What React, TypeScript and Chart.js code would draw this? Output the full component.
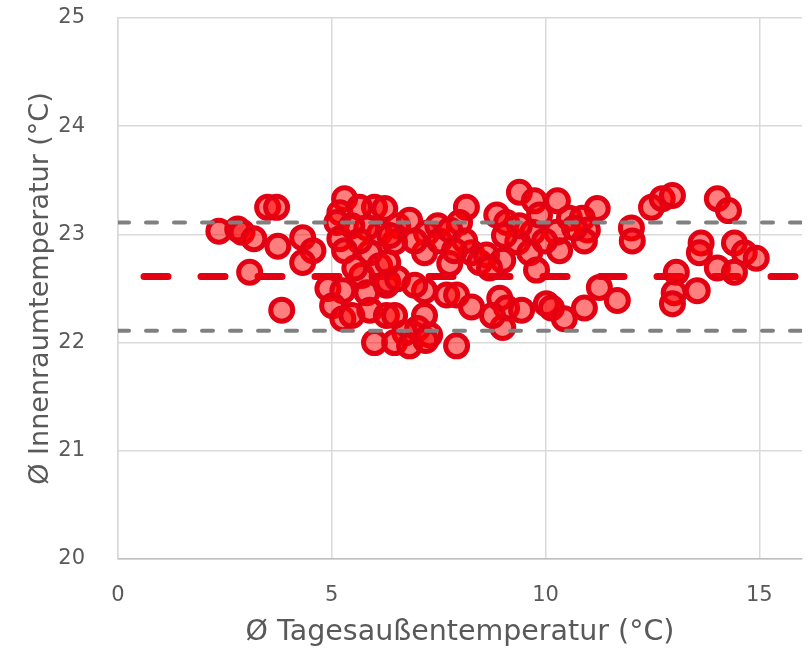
import React, { useEffect, useRef } from "react";
import { Chart, registerables } from "chart.js";

Chart.register(...registerables);

// Ø Tagesaußentemperatur (°C)
const outdoorTemps: number[] = [
  2.36, 2.80, 2.90, 3.18, 3.08, 3.50, 3.71, 3.74, 3.83,
  4.32, 4.56, 4.32,
  5.30, 5.19, 5.12, 6.00, 5.65, 5.19, 5.89, 6.12, 5.70, 5.54, 4.91, 5.26, 5.02, 5.82, 5.89, 5.26, 5.47, 6.28, 6.00, 6.28, 6.12, 5.82,
  8.15, 7.99, 6.54, 6.82, 7.22, 7.48, 6.47, 7.17, 7.76, 8.27, 8.46, 6.31, 6.54, 7.17, 7.69, 7.92, 8.27, 6.47, 7.17, 7.01, 6.71, 6.47, 7.29, 7.92, 6.31, 6.24,
  9.39, 9.74, 10.28, 8.86, 9.09, 10.56, 9.70, 10.26, 9.35, 10.33, 8.62, 9.00, 9.63, 9.79, 8.69, 8.93, 9.09, 9.44, 10.02, 10.14, 10.44, 9.00, 8.76,
  11.21, 10.86, 10.98, 10.91, 12.01, 12.03, 12.48, 12.73, 12.97, 11.26, 11.68, 10.91,
  14.02, 14.28, 13.64, 13.60, 14.42, 14.65, 14.93, 14.02, 14.42, 13.55, 13.06, 13.01, 12.97,
  5.47, 5.65, 5.30, 6.36, 6.94, 7.52, 7.76, 8.11, 7.87, 9.39, 9.86, 9.98, 10.68, 9.04, 6.94, 6.82, 7.20,
];

// Ø Innenraumtemperatur (°C)
const indoorTemps: number[] = [
  23.03, 23.05, 23.02, 22.96, 22.65, 23.25, 23.25, 22.89, 22.30,
  22.97, 22.85, 22.74,
  23.33, 23.20, 23.11, 23.25, 23.25, 22.96, 22.83, 22.71, 22.62, 22.69, 22.50, 22.48, 22.34, 22.46, 22.30, 22.22, 22.25, 22.25, 22.00, 22.53, 23.01, 23.06,
  23.25, 23.11, 23.08, 23.13, 23.01, 23.08, 22.93, 22.83, 22.73, 22.83, 22.74, 22.56, 22.59, 22.48, 22.44, 22.44, 22.33, 22.25, 22.25, 22.13, 22.09, 22.00, 22.07, 21.97, 22.74, 23.24,
  23.39, 23.31, 23.31, 23.18, 23.11, 23.15, 23.02, 23.02, 22.93, 22.85, 22.81, 22.76, 22.83, 22.67, 22.69, 22.41, 22.32, 22.30, 22.36, 22.32, 22.22, 22.14, 22.25,
  23.24, 23.15, 23.04, 22.94, 23.06, 22.94, 23.25, 23.33, 23.36, 22.51, 22.39, 22.32,
  23.33, 23.22, 22.92, 22.83, 22.92, 22.83, 22.78, 22.69, 22.65, 22.48, 22.65, 22.46, 22.36,
  23.08, 22.94, 22.85, 22.99, 22.94, 22.94, 23.04, 22.94, 22.85, 23.08, 23.18, 22.94, 23.06, 22.99, 22.53, 21.97, 22.02,
];

// reference lines: mean and ± 0.5 K band
const lineX: number[] = [0, 16];
const meanLevel: number[] = [22.61, 22.61];
const upperLevel: number[] = [23.11, 23.11];
const lowerLevel: number[] = [22.11, 22.11];

const xTicks: number[] = [0, 5, 10, 15];
const yTicks: number[] = [20, 21, 22, 23, 24, 25];

const RED = "rgb(226, 0, 18)";
const GREY = "#808080";
const TEXT = "#595959";
const FONT = "'DejaVu Sans', Verdana, sans-serif";

export default function App() {
  const canvasRef = useRef<HTMLCanvasElement | null>(null);

  useEffect(() => {
    if (!canvasRef.current) return;
    const points = outdoorTemps.map((x, i) => ({ x, y: indoorTemps[i] }));
    const mk = (vals: number[]) => lineX.map((x, i) => ({ x, y: vals[i] }));

    const chart = new Chart(canvasRef.current, {
      type: "scatter",
      data: {
        datasets: [
          {
            type: "line",
            label: "upper",
            data: mk(upperLevel),
            borderColor: GREY,
            borderWidth: 4,
            borderDash: [11, 17],
            borderCapStyle: "round",
            pointRadius: 0,
            fill: false,
            order: 0,
          },
          {
            type: "line",
            label: "lower",
            data: mk(lowerLevel),
            borderColor: GREY,
            borderWidth: 4,
            borderDash: [11, 17],
            borderCapStyle: "round",
            pointRadius: 0,
            fill: false,
            order: 0,
          },
          {
            type: "scatter",
            label: "Tage",
            data: points,
            backgroundColor: "rgba(255, 0, 0, 0.5)",
            borderColor: RED,
            borderWidth: 5,
            pointRadius: 11,
            order: 1,
          },
          {
            type: "line",
            label: "mean",
            data: mk(meanLevel),
            borderColor: RED,
            borderWidth: 7,
            borderDash: [24, 33],
            borderDashOffset: 31,
            borderCapStyle: "round",
            pointRadius: 0,
            fill: false,
            order: 2,
          },
        ],
      },
      options: {
        animation: false,
        responsive: true,
        maintainAspectRatio: false,
        layout: { autoPadding: false, padding: { top: 18, right: 9, left: 25, bottom: 0 } },
        plugins: {
          legend: { display: false },
          tooltip: { enabled: false },
        },
        scales: {
          x: {
            type: "linear",
            min: 0,
            max: 16,
            afterBuildTicks: (axis: any) => {
              axis.ticks = xTicks.map((v) => ({ value: v }));
            },
            afterFit: (axis: any) => {
              axis.height = 91;
              axis.paddingLeft = 0;
              axis.paddingRight = 0;
            },
            ticks: {
              color: TEXT,
              font: { family: FONT, size: 21 },
              padding: 24,
            },
            grid: { color: "#d9d9d9", lineWidth: 1.5, drawTicks: false },
            border: { color: "#bfbfbf", width: 1.5 },
            title: {
              display: true,
              text: "Ø Tagesaußentemperatur (°C)",
              color: TEXT,
              font: { family: FONT, size: 28.5 },
              padding: { top: 9, bottom: 0 },
            },
          },
          y: {
            type: "linear",
            min: 20,
            max: 25,
            afterBuildTicks: (axis: any) => {
              axis.ticks = yTicks.map((v) => ({ value: v }));
            },
            afterFit: (axis: any) => {
              axis.width = 93;
              axis.paddingTop = 0;
              axis.paddingBottom = 0;
            },
            ticks: {
              color: TEXT,
              font: { family: FONT, size: 21 },
              padding: 33,
            },
            grid: { color: "#d9d9d9", lineWidth: 1.5, drawTicks: false },
            border: { color: "#d9d9d9", width: 1.5 },
            title: {
              display: true,
              text: "Ø Innenraumtemperatur (°C)",
              color: TEXT,
              font: { family: FONT, size: 27 },
              padding: { top: 0, bottom: 1 },
            },
          },
        },
      },
    });
    return () => chart.destroy();
  }, []);

  return (
    <div style={{ position: "fixed", left: 0, top: 0, width: 811, height: 650, background: "#fff" }}>
      <canvas ref={canvasRef} />
    </div>
  );
}
